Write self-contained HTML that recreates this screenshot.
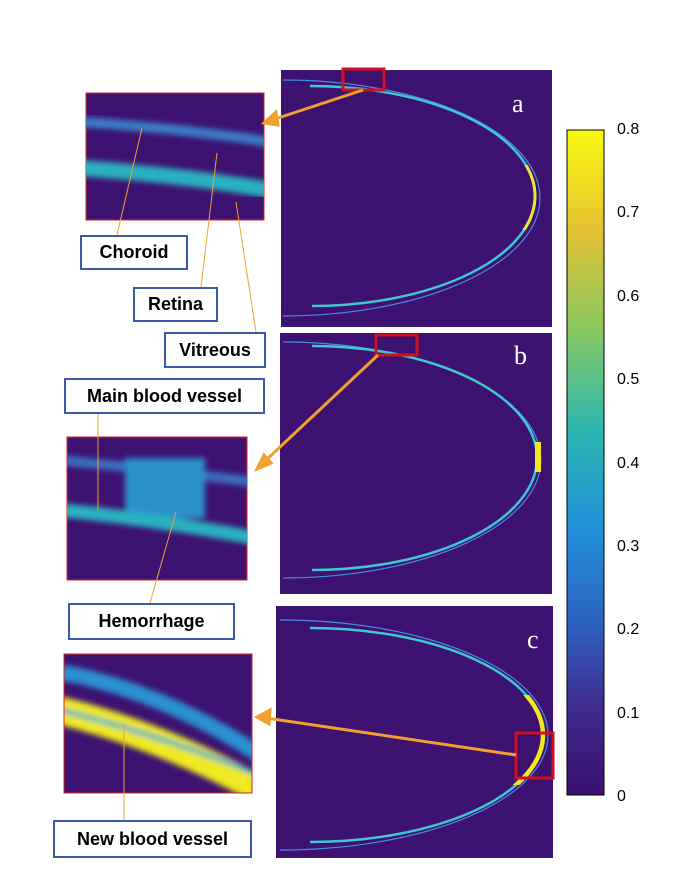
<!DOCTYPE html>
<html><head><style>
body{margin:0;background:#fff;width:700px;height:884px;overflow:hidden;position:relative;font-family:"Liberation Sans",sans-serif}
.lbl{position:absolute;border:2px solid #3a5aa8;background:#fff;font-weight:bold;font-size:18px;display:flex;align-items:center;justify-content:center;box-sizing:border-box;color:#000}
.tk{position:absolute;left:617px;font-size:16px;color:#000}
</style></head><body>
<svg width="700" height="884" style="position:absolute;left:0;top:0">
<defs>
<linearGradient id="vir" x1="0" y1="1" x2="0" y2="0">
<stop offset="0" stop-color="#3b1070"/><stop offset="0.13" stop-color="#3e2a8c"/><stop offset="0.25" stop-color="#2f5fbf"/><stop offset="0.4" stop-color="#1f90d8"/><stop offset="0.55" stop-color="#2cb7b0"/><stop offset="0.7" stop-color="#88c860"/><stop offset="0.85" stop-color="#e6c232"/><stop offset="1" stop-color="#f8f80e"/>
</linearGradient>
<filter id="bl"><feGaussianBlur stdDeviation="3"/></filter>
<clipPath id="c1"><rect x="86" y="93" width="178" height="127"/></clipPath>
<clipPath id="c2"><rect x="67" y="437" width="180" height="143"/></clipPath>
<clipPath id="c3"><rect x="64" y="654" width="188" height="139"/></clipPath>
<clipPath id="ya"><rect x="500" y="165" width="60" height="65"/></clipPath>
<clipPath id="yc"><rect x="500" y="695" width="60" height="90"/></clipPath>
</defs>
<rect x="281" y="70" width="271" height="257" fill="#3d1270"/>
<rect x="280" y="333" width="272" height="261" fill="#3d1270"/>
<rect x="276" y="606" width="277" height="252" fill="#3d1270"/>
<!-- a -->
<path d="M283 80 A 257 118 0 0 1 283 316" fill="none" stroke="#4a8ae0" stroke-width="1.2"/>
<path d="M310 86 A 224 110 0 0 1 312 306" fill="none" stroke="#40c8d0" stroke-width="2.5"/>
<path d="M310 86 A 224 110 0 0 1 312 306" fill="none" stroke="#e8e830" stroke-width="3" clip-path="url(#ya)"/>
<!-- b -->
<path d="M283 342 A 258 118 0 0 1 283 578" fill="none" stroke="#4a8ae0" stroke-width="1.2"/>
<path d="M312 346 A 225 112 0 0 1 312 570" fill="none" stroke="#40c8d0" stroke-width="2.5"/>
<rect x="535" y="442" width="6" height="30" fill="#f0e820"/>
<!-- c -->
<path d="M280 620 A 268 115 0 0 1 280 850" fill="none" stroke="#4a8ae0" stroke-width="1.2"/>
<path d="M310 628 A 233 107 0 0 1 310 842" fill="none" stroke="#40c8d0" stroke-width="2.5"/>
<path d="M310 628 A 233 107 0 0 1 310 842" fill="none" stroke="#f0e820" stroke-width="4.5" clip-path="url(#yc)"/>
<text x="512" y="112" font-family="Liberation Serif" font-size="26" fill="#fff">a</text>
<text x="514" y="364" font-family="Liberation Serif" font-size="26" fill="#fff">b</text>
<text x="527" y="648" font-family="Liberation Serif" font-size="26" fill="#fff">c</text>
<rect x="343" y="69" width="41" height="21" fill="none" stroke="#d01020" stroke-width="3"/>
<rect x="376" y="335" width="41" height="20" fill="none" stroke="#d01020" stroke-width="3"/>
<rect x="516" y="733" width="37" height="45" fill="none" stroke="#d01020" stroke-width="3"/>
<!-- insets -->
<rect x="86" y="93" width="178" height="127" fill="#3d1270" stroke="#e02020"/>
<g filter="url(#bl)" clip-path="url(#c1)"><path d="M80 122 Q180 128 270 142" stroke="#3a80c8" stroke-width="10" fill="none"/>
<path d="M80 168 Q180 175 270 190" stroke="#2ab0c0" stroke-width="16" fill="none"/></g>
<rect x="67" y="437" width="180" height="143" fill="#3d1270" stroke="#e02020"/>
<g filter="url(#bl)" clip-path="url(#c2)"><path d="M60 460 Q160 470 255 482" stroke="#3a70c0" stroke-width="10" fill="none"/>
<rect x="125" y="458" width="80" height="60" fill="#2a90c8"/>
<path d="M60 510 Q160 520 255 538" stroke="#2ab0c0" stroke-width="14" fill="none"/></g>
<g clip-path="url(#c3)"><rect x="64" y="654" width="188" height="139" fill="#3d1270"/>
<g filter="url(#bl)"><path d="M60 672 Q160 690 260 755" stroke="#2a90d0" stroke-width="16" fill="none"/>
<path d="M58 710 Q160 735 260 790" stroke="#f0e820" stroke-width="28" fill="none"/>
<path d="M60 710 Q160 735 260 775" stroke="#2ab0c0" stroke-width="5" fill="none"/></g></g>
<rect x="64" y="654" width="188" height="139" fill="none" stroke="#e02020"/>
<g stroke="#f2a030" stroke-width="3" fill="#f2a030">
<line x1="363" y1="90" x2="272" y2="120"/><polygon points="264,123 276,112 278,125"/>
<line x1="378" y1="355" x2="264" y2="462"/><polygon points="257,469 264,455 271,463"/>
<line x1="516" y1="755" x2="266" y2="718"/><polygon points="257,717 270,710 269,724"/>
</g>
<g stroke="#f2a030" stroke-width="1" fill="none">
<line x1="117" y1="235" x2="142" y2="128"/><line x1="201" y1="287" x2="217" y2="153"/><line x1="256" y1="332" x2="236" y2="202"/>
<line x1="98" y1="414" x2="98" y2="510"/><line x1="150" y1="603" x2="176" y2="512"/><line x1="124" y1="820" x2="124" y2="724"/>
</g>
<rect x="567" y="130" width="37" height="665" fill="url(#vir)" stroke="#000"/>
</svg>
<div class="tk" style="top:121px">0.8</div>
<div class="tk" style="top:204px">0.7</div>
<div class="tk" style="top:288px">0.6</div>
<div class="tk" style="top:371px">0.5</div>
<div class="tk" style="top:455px">0.4</div>
<div class="tk" style="top:538px">0.3</div>
<div class="tk" style="top:621px">0.2</div>
<div class="tk" style="top:705px">0.1</div>
<div class="tk" style="top:788px">0</div>
<div class="lbl" style="left:80px;top:235px;width:108px;height:35px">Choroid</div>
<div class="lbl" style="left:133px;top:287px;width:85px;height:35px">Retina</div>
<div class="lbl" style="left:164px;top:332px;width:102px;height:36px">Vitreous</div>
<div class="lbl" style="left:64px;top:378px;width:201px;height:36px">Main blood vessel</div>
<div class="lbl" style="left:68px;top:603px;width:167px;height:37px">Hemorrhage</div>
<div class="lbl" style="left:53px;top:820px;width:199px;height:38px">New blood vessel</div>
</body></html>
